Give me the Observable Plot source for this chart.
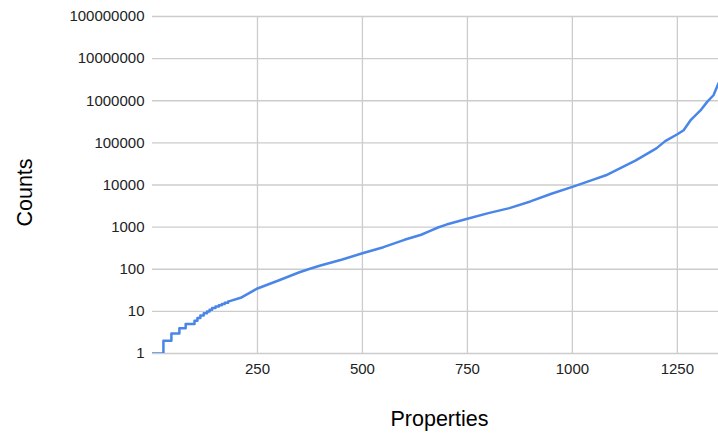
<!DOCTYPE html>
<html>
<head>
<meta charset="utf-8">
<script src="https://cdn.jsdelivr.net/npm/d3@7"></script>
<script src="https://cdn.jsdelivr.net/npm/@observablehq/plot@0.6"></script>
<style>
  html, body { margin: 0; padding: 0; background: #fff; }
  #chart svg { display: block; }
</style>
</head>
<body>
<div id="chart"></div>
<script>
// Step part (small integer counts): rank where count first reaches value
const stepX = [0, 26, 45, 64, 79, 100, 107, 114, 122, 130, 136, 142, 150, 158, 165, 172, 180];
const stepY = [1, 2, 3, 4, 5, 6, 7, 8, 9, 10, 11, 12, 13, 14, 15, 16, 17];
// Smooth part
const curveX = [180, 210, 250, 300, 350, 375, 400, 450, 500, 550, 600, 640, 660, 680, 700, 750, 800, 850, 900, 950, 1000, 1050, 1080, 1100, 1150, 1200, 1221, 1250, 1265, 1281, 1305, 1321, 1336, 1348];
const curveY = [17, 21, 35, 54, 85, 103, 123, 168, 240, 334, 500, 660, 800, 980, 1150, 1580, 2150, 2830, 4070, 6200, 9000, 13400, 17000, 21400, 38000, 74000, 110000, 160000, 200000, 340000, 590000, 940000, 1350000, 2600000];
const xTicks = [250, 500, 750, 1000, 1250];
const yTicks = [1, 10, 100, 1000, 10000, 100000, 1000000, 10000000, 100000000];
const xLabel = "Properties";
const yLabel = "Counts";

const steps = stepX.map((x, i) => ({x, y: stepY[i]}));
const curve = curveX.map((x, i) => ({x, y: curveY[i]}));
const lineColor = "#4a86e8";

const chart = Plot.plot({
  width: 718,
  height: 435,
  marginLeft: 152,
  marginRight: 0,
  marginTop: 16,
  marginBottom: 82,
  style: {fontFamily: "'Liberation Sans', Arial, sans-serif", fontSize: "15px", color: "#222", background: "#fff"},
  x: {domain: [0, 1348], ticks: xTicks, label: null},
  y: {type: "log", domain: [1, 100000000], ticks: yTicks, label: null},
  marks: [
    Plot.gridX(xTicks, {stroke: "#cccccc", strokeOpacity: 1, strokeWidth: 1.3}),
    Plot.gridY(yTicks, {stroke: "#cccccc", strokeOpacity: 1, strokeWidth: 1.3}),
    Plot.axisX({ticks: xTicks, tickSize: 0, tickPadding: 10, tickFormat: d3.format("d"), label: null}),
    Plot.axisY({ticks: yTicks, tickSize: 0, tickPadding: 8, tickFormat: d3.format("d"), label: null}),
    Plot.lineY(steps, {x: "x", y: "y", curve: "step-after", stroke: lineColor, strokeWidth: 2.5, clip: true}),
    Plot.lineY(curve, {x: "x", y: "y", stroke: lineColor, strokeWidth: 2.5, clip: true}),
    Plot.text([xLabel], {frameAnchor: "bottom", text: d => d, textAnchor: "middle", lineAnchor: "middle", dx: 4, dy: 66, fontSize: 21.5, fill: "#000"}),
    Plot.text([yLabel], {frameAnchor: "left", text: d => d, rotate: -90, textAnchor: "middle", lineAnchor: "middle", dx: -127, dy: 7.5, fontSize: 21.5, fill: "#000"})
  ]
});
document.getElementById("chart").appendChild(chart);
</script>
</body>
</html>
